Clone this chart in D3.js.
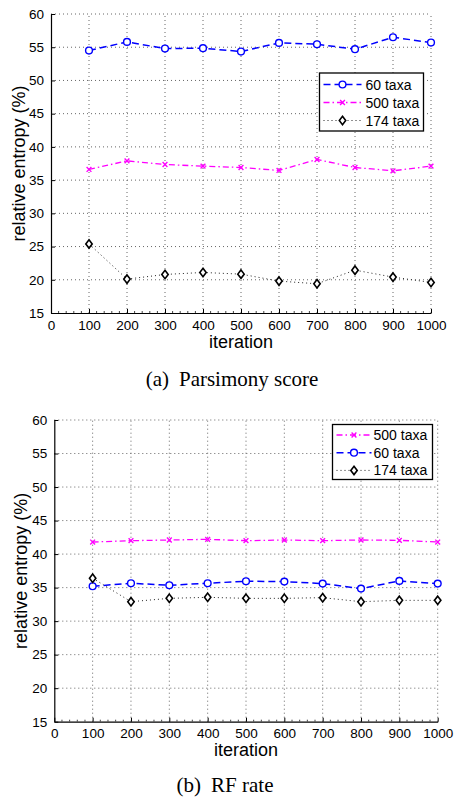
<!DOCTYPE html>
<html>
<head>
<meta charset="utf-8">
<script src="https://cdn.jsdelivr.net/npm/d3@7"></script>
<style>
  html, body { margin: 0; padding: 0; background: #fff; }
  svg { display: block; }
</style>
</head>
<body>
<svg id="chart" width="454" height="799"></svg>
<script>
// ---------- data ----------
const iterations = [100, 200, 300, 400, 500, 600, 700, 800, 900, 1000];
const xTicks = [0, 100, 200, 300, 400, 500, 600, 700, 800, 900, 1000];
const yTicks = [15, 20, 25, 30, 35, 40, 45, 50, 55, 60];

const parsimony60  = [54.5, 55.8, 54.8, 54.85, 54.35, 55.65, 55.45, 54.7, 56.5, 55.7];
const parsimony500 = [36.6, 37.9, 37.35, 37.1, 36.9, 36.45, 38.1, 36.9, 36.4, 37.1];
const parsimony174 = [25.4, 20.1, 20.8, 21.1, 20.85, 19.8, 19.4, 21.45, 20.4, 19.6];

const rf500 = [41.8, 42.0, 42.1, 42.2, 42.0, 42.1, 42.0, 42.1, 42.05, 41.8];
const rf60  = [35.2, 35.65, 35.35, 35.65, 35.95, 35.9, 35.6, 34.85, 36.0, 35.6];
const rf174 = [36.4, 32.9, 33.4, 33.55, 33.4, 33.4, 33.5, 32.9, 33.1, 33.1];

const seriesNames = { s60: "60 taxa", s500: "500 taxa", s174: "174 taxa" };
const xLabel = "iteration";
const yLabel = "relative entropy (%)";
const captionA = ["(a)", "Parsimony score"];
const captionB = ["(b)", "RF rate"];

// ---------- styles ----------
const SANS = "'Liberation Sans', Arial, Helvetica, sans-serif";
const SERIF = "'Liberation Serif', 'Times New Roman', serif";
const styles = {
  s60:  { color: "#0000ff", dash: "7,4",      width: 1.5, marker: "circle" },
  s500: { color: "#ff00ff", dash: "6,3,1.5,3", width: 1.3, marker: "x" },
  s174: { color: "#222",    dash: "1,3",      width: 1.0, marker: "diamond", markerColor: "#000" }
};

const svg = d3.select("#chart");

function drawMarker(g, type, x, y, color) {
  if (type === "circle") {
    g.append("circle").attr("cx", x).attr("cy", y).attr("r", 3.4)
      .attr("fill", "#fff").attr("stroke", color).attr("stroke-width", 1.4);
  } else if (type === "x") {
    const s = 2.4;
    g.append("path").attr("d", `M${x-s},${y-s}L${x+s},${y+s}M${x-s},${y+s}L${x+s},${y-s}`)
      .attr("stroke", color).attr("stroke-width", 1.4).attr("fill", "none");
  } else if (type === "diamond") {
    const w = 3.2, h = 4.2;
    g.append("path").attr("d", `M${x},${y-h}L${x+w},${y}L${x},${y+h}L${x-w},${y}Z`)
      .attr("fill", "#fff").attr("stroke", color).attr("stroke-width", 1.6);
  }
}

function drawChart(cfg) {
  const x = d3.scaleLinear().domain([0, 1000]).range([cfg.left, cfg.right]);
  const y = d3.scaleLinear().domain([15, 60]).range([cfg.bottom, cfg.top]);
  const g = svg.append("g");

  // grid
  const grid = g.append("g").attr("stroke", "#666").attr("stroke-width", 1)
    .attr("stroke-dasharray", "1,3").attr("fill", "none");
  xTicks.filter(t => t > 0).forEach(t => {
    grid.append("line").attr("x1", x(t)).attr("x2", x(t))
      .attr("y1", cfg.bottom).attr("y2", cfg.top);
  });
  yTicks.filter(t => t > 15).forEach(t => {
    grid.append("line").attr("x1", cfg.left).attr("x2", cfg.right)
      .attr("y1", y(t)).attr("y2", y(t));
  });

  // axes
  const xAxis = d3.axisBottom(x).tickValues(xTicks).tickFormat(d3.format("d"))
    .tickSizeInner(-4).tickSizeOuter(0).tickPadding(7);
  const gx = g.append("g").attr("transform", `translate(0,${cfg.bottom})`).call(xAxis);
  gx.attr("font-family", SANS).attr("font-size", 13.5);
  gx.select(".domain").attr("stroke", "#000").attr("stroke-width", 1.2);
  gx.selectAll(".tick line").attr("stroke", "#000");
  gx.selectAll(".tick text").attr("fill", "#000");
  // minor ticks
  const minor = d3.range(0, 1001, 20).filter(v => v % 100 !== 0);
  gx.append("g").selectAll("line").data(minor).join("line")
    .attr("x1", d => x(d)).attr("x2", d => x(d)).attr("y1", 0).attr("y2", -2)
    .attr("stroke", "#444").attr("stroke-width", 1);

  const yAxis = d3.axisLeft(y).tickValues(yTicks).tickFormat(d3.format("d"))
    .tickSizeInner(-4).tickSizeOuter(0).tickPadding(7);
  const gy = g.append("g").attr("transform", `translate(${cfg.left},0)`).call(yAxis);
  gy.attr("font-family", SANS).attr("font-size", 13.5);
  gy.select(".domain").attr("stroke", "#000").attr("stroke-width", 1.2);
  gy.selectAll(".tick line").attr("stroke", "#000");
  gy.selectAll(".tick text").attr("fill", "#000");

  // axis labels
  g.append("text").attr("x", (cfg.left + cfg.right) / 2).attr("y", cfg.xLabelY)
    .attr("text-anchor", "middle").attr("font-family", SANS)
    .attr("font-size", 18).text(xLabel);
  g.append("text").attr("transform", `translate(${cfg.yLabelX},${(cfg.top + cfg.bottom) / 2}) rotate(-90)`)
    .attr("text-anchor", "middle").attr("font-family", SANS)
    .attr("font-size", 18).text(yLabel);

  // series
  const line = d3.line().x((d, i) => x(iterations[i])).y(d => y(d));
  cfg.series.forEach(s => {
    const st = styles[s.key];
    g.append("path").attr("d", line(s.values)).attr("fill", "none")
      .attr("stroke", st.color).attr("stroke-width", st.width).attr("stroke-dasharray", st.dash);
  });
  cfg.series.forEach(s => {
    const st = styles[s.key];
    const mg = g.append("g");
    s.values.forEach((v, i) => drawMarker(mg, st.marker, x(iterations[i]), y(v), st.markerColor || st.color));
  });

  // legend
  const L = cfg.legend;
  const lg = g.append("g");
  lg.append("rect").attr("x", L.x).attr("y", L.y).attr("width", L.w).attr("height", L.h)
    .attr("fill", "#fff").attr("stroke", "#000").attr("stroke-width", 1.3);
  cfg.series.forEach((s, i) => {
    const st = styles[s.key];
    const cy = L.y + L.row0 + i * L.dy;
    lg.append("line").attr("x1", L.x + L.lx0).attr("x2", L.x + L.lx1).attr("y1", cy).attr("y2", cy)
      .attr("stroke", st.color).attr("stroke-width", st.width).attr("stroke-dasharray", st.dash);
    drawMarker(lg, st.marker, L.x + (L.lx0 + L.lx1) / 2, cy, st.markerColor || st.color);
    lg.append("text").attr("x", L.x + L.tx).attr("y", cy + 5)
      .attr("font-family", SANS).attr("font-size", 14)
      .text(seriesNames[s.key]);
  });

  // caption
  const cap = g.append("text").attr("x", cfg.capX).attr("y", cfg.capY).attr("text-anchor", "middle")
    .attr("font-family", SERIF).attr("font-size", 21);
  cap.append("tspan").text(cfg.caption[0]);
  cap.append("tspan").attr("dx", 10).text(cfg.caption[1]);
}

drawChart({
  left: 51, right: 431, top: 14, bottom: 313,
  xLabelY: 348, yLabelX: 25,
  series: [
    { key: "s60", values: parsimony60 },
    { key: "s500", values: parsimony500 },
    { key: "s174", values: parsimony174 }
  ],
  legend: { x: 319.5, y: 73, w: 104, h: 58, row0: 11.5, dy: 18, lx0: 4, lx1: 42, tx: 46 },
  caption: captionA, capX: 232, capY: 386
});

drawChart({
  left: 54.3, right: 437.7, top: 420, bottom: 721.7,
  xLabelY: 756, yLabelX: 27,
  series: [
    { key: "s500", values: rf500 },
    { key: "s60", values: rf60 },
    { key: "s174", values: rf174 }
  ],
  legend: { x: 332.5, y: 424.5, w: 100, h: 55, row0: 10.5, dy: 17.7, lx0: 4, lx1: 39, tx: 41 },
  caption: captionB, capX: 225, capY: 792
});
</script>
</body>
</html>
